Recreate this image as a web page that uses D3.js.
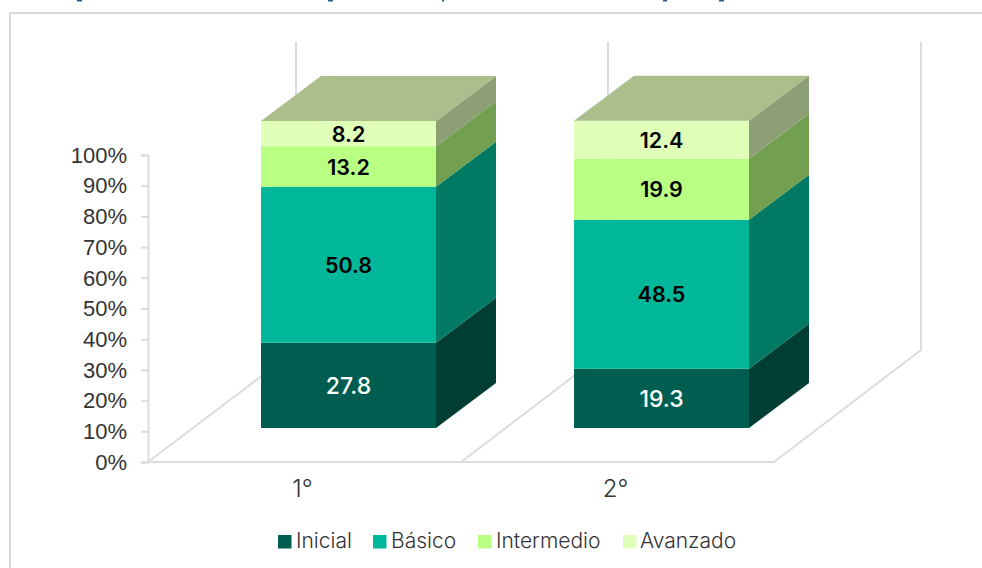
<!DOCTYPE html>
<html><head><meta charset="utf-8">
<style>html,body{margin:0;padding:0;background:#fff}svg{display:block;font-family:Inter,sans-serif}</style>
<script src="https://cdn.jsdelivr.net/npm/d3@7/dist/d3.min.js"></script></head>
<body><svg id="c" width="982" height="568"></svg>
<script>
const categories = ["1°", "2°"];
const seriesNames = ["Inicial", "Básico", "Intermedio", "Avanzado"];
const inicial = [27.8, 19.3];
const basico = [50.8, 48.5];
const intermedio = [13.2, 19.9];
const avanzado = [8.2, 12.4];
const yTicks = [0,10,20,30,40,50,60,70,80,90,100];
const frontColors = ["#005e50", "#00b899", "#b9ff83", "#e0ffb8"];
const sideColors = ["#003d32", "#007a63", "#729f50", "#8c9f75"];
const labelColors = ["#ffffff", "#000000", "#000000", "#000000"];
const topColor = "#abbe8c";
const gridColor = "#dcdcdc";
const textColor = "#333333";
// Unreadable ink of the title that is cropped off by the top edge of the picture.
const croppedInkX = [77, 328, 442, 663, 719];
const croppedInkW = [5, 5, 2, 4, 5];
const legendSwatchX = [278, 373, 478, 623];
const legendTextX = [296, 391, 496, 640];

const svg = d3.select("#c");
const depthX = 60, depthY = 45;
const wallX = 148, wallBack = 148, wallBackY = 112;

svg.append("g").selectAll("rect").data(croppedInkX).join("rect")
  .attr("x",d=>d).attr("y",0).attr("width",(d,i)=>croppedInkW[i]).attr("height",1.5).attr("fill","#2a5a85");

// card border
svg.append("path").attr("d","M10,568V13H982").attr("fill","none").attr("stroke","#d9d9d9").attr("stroke-width",2);

const y = d3.scaleLinear().domain([0,100]).range([462,155]);
const x = d3.scaleBand().domain(categories).range([148,774]);
const barW = 175;
const frontY = v => y(v) - 34;

// floor and walls
const grid = svg.append("g").attr("fill","none").attr("stroke",gridColor).attr("stroke-width",2);
const backY = y(0) - wallBackY;
grid.append("path").attr("d",`M${x.range()[0]},${y(0)}H${x.range()[1]}L${x.range()[1]+147},${backY}V42`);
grid.append("path").attr("d",`M${x.range()[0]},${y(0)}L${x.range()[0]+wallBack},${backY}V42`);
grid.append("path").attr("d",`M${x(categories[1])},${y(0)}L${x(categories[1])+147},${backY}V42`);

// axis
const axis = d3.axisLeft(y).tickValues(yTicks).tickFormat(d=>d+"%").tickSize(7).tickPadding(14);
const ag = svg.append("g").attr("transform",`translate(${wallX},0)`).call(axis);
ag.selectAll("path,line").attr("stroke",gridColor).attr("stroke-width",2);
ag.selectAll("text").attr("font-size",22).attr("font-weight",300).attr("fill",textColor).attr("dy","0.33em");

// bars
const stackRows = categories.map((c,i)=>({c,Inicial:inicial[i],"Básico":basico[i],Intermedio:intermedio[i],Avanzado:avanzado[i]}));
const series = d3.stack().keys(seriesNames)(stackRows);
const bx = c => x(c) + 113;
series.forEach((s,si)=>{
  const g = svg.append("g");
  s.forEach(d=>{
    const c = d.data.c, x0 = bx(c), x1 = x0 + barW, yb = frontY(d[0]), yt = frontY(d[1]);
    g.append("path").attr("d",`M${x1},${yb}L${x1+depthX},${yb-depthY}V${yt-depthY}L${x1},${yt}Z`).attr("fill",sideColors[si]);
    g.append("rect").attr("x",x0).attr("y",yt).attr("width",barW).attr("height",yb-yt).attr("fill",frontColors[si]);
    g.append("text").attr("x",x0+barW/2).attr("y",(yb+yt)/2).attr("dy","0.38em").attr("text-anchor","middle")
      .attr("font-size",si===0?23:21.5).attr("font-weight",si===0?500:600).attr("fill",labelColors[si]).text(+(d[1]-d[0]).toFixed(1));
    if(si===seriesNames.length-1){
      svg.append("path").attr("d",`M${x0},${yt}L${x0+depthX},${yt-depthY}H${x1+depthX}L${x1},${yt}Z`).attr("fill",topColor);
    }
  });
});

// category labels
svg.append("g").selectAll("text").data(categories).join("text")
  .attr("x",d=>x(d)+x.bandwidth()/2-2).attr("y",497).attr("text-anchor","middle")
  .attr("font-size",24).attr("font-weight",300).attr("fill",textColor).text(d=>d);

// legend
const lg = svg.append("g").selectAll("g").data(seriesNames).join("g");
lg.append("rect").attr("x",(d,i)=>legendSwatchX[i]).attr("y",535).attr("width",13.5).attr("height",13.5).attr("fill",(d,i)=>frontColors[i]);
lg.append("text").attr("x",(d,i)=>legendTextX[i]).attr("y",548).attr("font-size",21).attr("font-weight",300).attr("fill",textColor).text(d=>d);
</script></body></html>
